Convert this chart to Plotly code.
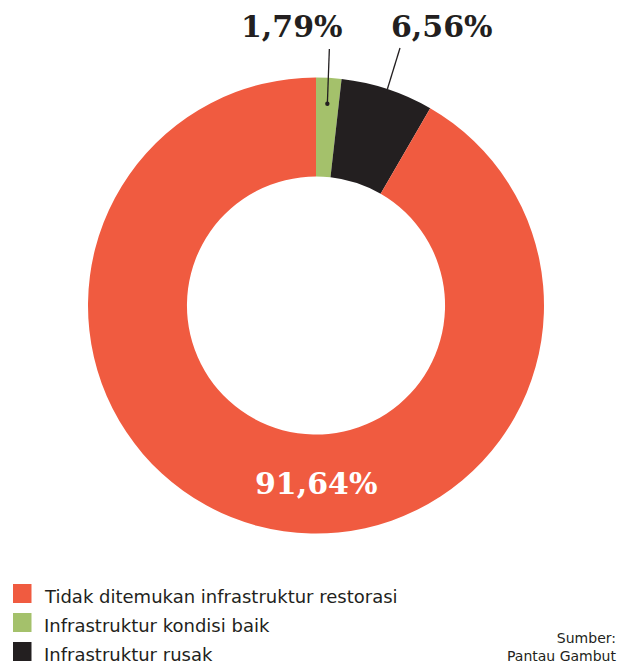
import math
import plotly.graph_objects as go

# ---- data ----
categories = ["Infrastruktur kondisi baik", "Infrastruktur rusak", "Tidak ditemukan infrastruktur restorasi"]
values = [1.79, 6.56, 91.64]
value_labels = ["1,79%", "6,56%", "91,64%"]
colors = ["#A4C16B", "#231F20", "#F05B40"]
legend_order = ["Tidak ditemukan infrastruktur restorasi", "Infrastruktur kondisi baik", "Infrastruktur rusak"]
source_lines = ["Sumber:", "Pantau Gambut"]

W, H = 618, 666
CX, CY, R = 316.0, 305.5, 228.0
HOLE = 0.566


def px(x):
    return x / W


def py(y):
    return 1 - y / H


fig = go.Figure()
fig.add_trace(go.Pie(
    labels=categories,
    values=values,
    marker=dict(colors=colors, line=dict(width=0)),
    hole=HOLE,
    sort=False,
    direction="clockwise",
    rotation=0,
    textinfo="none",
    hoverinfo="label+percent",
    showlegend=False,
    domain=dict(x=[px(CX - R), px(CX + R)], y=[py(CY + R), py(CY - R)]),
))

total = sum(values)
cum = 0
mids = []
for v in values:
    mids.append(2 * math.pi * (cum + v / 2) / total)
    cum += v


def polar(theta, r):
    return CX + r * math.sin(theta), CY - r * math.cos(theta)


shapes = []
annotations = []
num_font = dict(family="DejaVu Serif", size=30, color="#231F20")

# green label with leader and dot
gx, gy = polar(mids[0], 0.886 * R)
shapes.append(dict(type="line", xref="paper", yref="paper",
                   x0=px(gx + 2), y0=py(49), x1=px(gx), y1=py(gy),
                   line=dict(color="#231F20", width=1.3)))
shapes.append(dict(type="circle", xref="paper", yref="paper",
                   x0=px(gx - 2.2), x1=px(gx + 2.2), y0=py(gy - 2.2), y1=py(gy + 2.2),
                   fillcolor="#231F20", line=dict(width=0)))
annotations.append(dict(x=px(292), y=py(26), xref="paper", yref="paper",
                        text="<b>" + value_labels[0] + "</b>", showarrow=False,
                        xanchor="center", yanchor="middle", font=num_font))

# black label with leader
bx, by = polar(mids[1], R)
shapes.append(dict(type="line", xref="paper", yref="paper",
                   x0=px(400), y0=py(48), x1=px(bx), y1=py(by),
                   line=dict(color="#231F20", width=1.3)))
annotations.append(dict(x=px(442), y=py(26), xref="paper", yref="paper",
                        text="<b>" + value_labels[1] + "</b>", showarrow=False,
                        xanchor="center", yanchor="middle", font=num_font))

# red label inside
annotations.append(dict(x=px(315.5), y=py(483), xref="paper", yref="paper",
                        text="<b>" + value_labels[2] + "</b>", showarrow=False,
                        xanchor="center", yanchor="middle",
                        font=dict(family="DejaVu Serif", size=30, color="white")))

# manual legend
row_y = [593.5, 622.5, 651.5]
for name, yc in zip(legend_order, row_y):
    c = colors[categories.index(name)]
    shapes.append(dict(type="rect", xref="paper", yref="paper",
                       x0=px(13), x1=px(31.5), y0=py(yc + 9.5), y1=py(yc - 9.5),
                       fillcolor=c, line=dict(width=0)))
    annotations.append(dict(x=px(42), y=py(yc + 3), xref="paper", yref="paper",
                            text=name, showarrow=False, xanchor="left", yanchor="middle",
                            font=dict(family="DejaVu Sans", size=18, color="#231F20")))

# source
annotations.append(dict(x=px(618), y=py(647), xref="paper", yref="paper",
                        text="<br>".join(source_lines), showarrow=False,
                        xanchor="right", yanchor="middle", align="right",
                        font=dict(family="DejaVu Sans", size=14, color="#231F20")))

fig.update_layout(
    width=W, height=H,
    margin=dict(l=0, r=0, t=0, b=0),
    paper_bgcolor="white", plot_bgcolor="white",
    shapes=shapes, annotations=annotations,
)

fig.write_html("out.html", config={"displayModeBar": False},
               post_script="document.body.style.margin='0';")
